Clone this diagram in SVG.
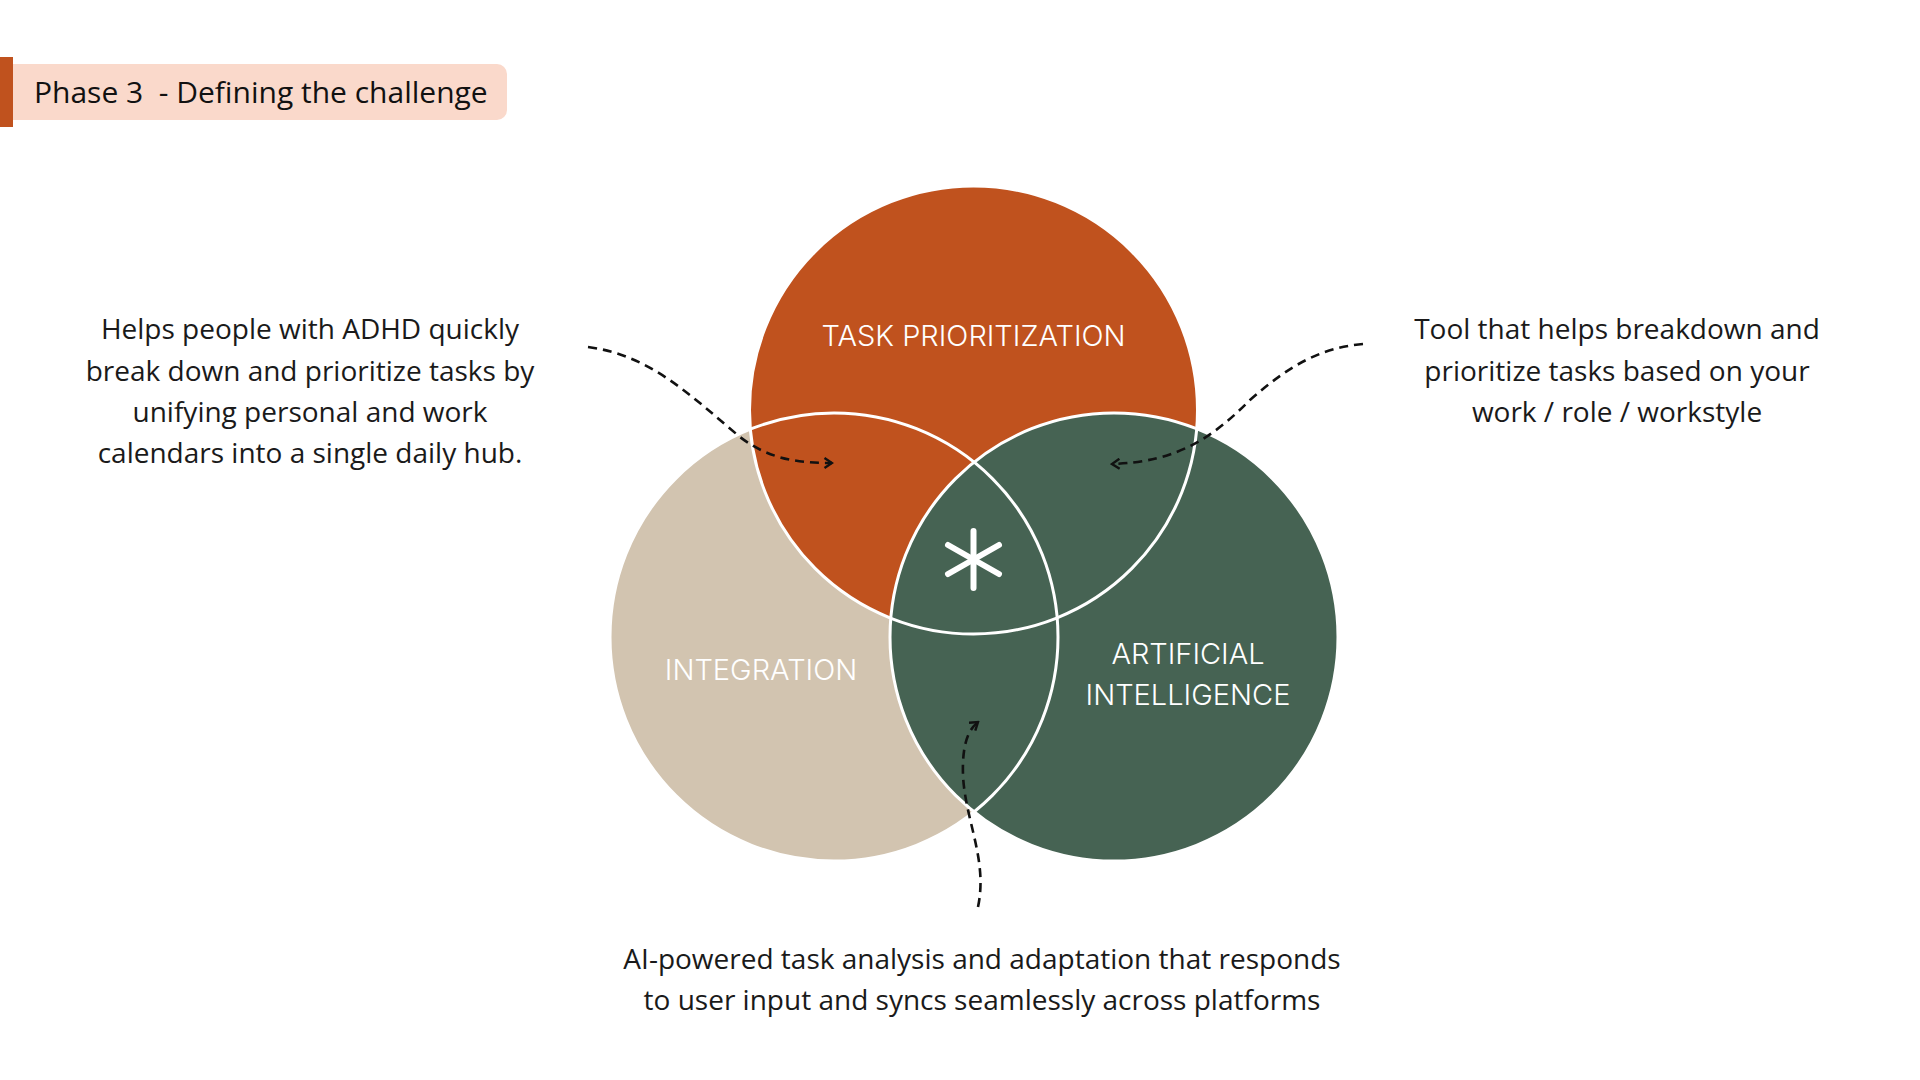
<svg xmlns="http://www.w3.org/2000/svg" width="1920" height="1080" viewBox="0 0 1920 1080">
<style>
.body{font-family:"Open Sans","Liberation Sans",sans-serif;font-size:28px;fill:#1a1a1a;text-anchor:middle}
.lbl{font-family:"Inter","Open Sans","Liberation Sans",sans-serif;font-weight:300;font-size:29px;fill:#ffffff;text-anchor:middle}
.ring{fill:none;stroke:#ffffff;stroke-width:3}
.dash{fill:none;stroke:#111111;stroke-width:2.6;stroke-dasharray:9 6}
</style>
<defs>
<marker id="arr" viewBox="0 0 12 12" refX="10.5" refY="6" markerWidth="12" markerHeight="12" markerUnits="userSpaceOnUse" orient="auto">
<path d="M3,1 L10.5,6 L3,11" fill="none" stroke="#111111" stroke-width="2.4"/>
</marker>
</defs>
<rect width="1920" height="1080" fill="#ffffff"/>
<g id="header">
<path d="M13,64 H497 A10,10 0 0 1 507,74 V110 A10,10 0 0 1 497,120 H13 Z" fill="#FAD9CB"/>
<rect x="0" y="57" width="13" height="70" fill="#C0521E"/>
<text x="34" y="103" font-family="Open Sans, Liberation Sans, sans-serif" font-size="30" fill="#111111" xml:space="preserve">Phase 3  - Defining the challenge</text>
</g>
<g id="venn">
<g id="integration"><circle cx="834" cy="637" r="224" fill="#D2C4B0"/></g>
<g id="task-prioritization"><circle cx="973.5" cy="410" r="224" fill="#C0521E"/></g>
<g id="artificial-intelligence"><circle cx="1114" cy="637" r="224" fill="#466353"/></g>
<circle class="ring" cx="834" cy="637" r="224"/>
<circle class="ring" cx="973.5" cy="410" r="224"/>
<circle class="ring" cx="1114" cy="637" r="224"/>
<text class="lbl" x="973.5" y="346">TASK PRIORITIZATION</text>
<text class="lbl" x="761" y="680">INTEGRATION</text>
<text class="lbl" x="1188" y="664">ARTIFICIAL</text>
<text class="lbl" x="1188" y="705">INTELLIGENCE</text>
<g id="center" stroke="#ffffff" stroke-width="6" stroke-linecap="round">
<line x1="973.5" y1="531" x2="973.5" y2="588"/>
<line x1="948" y1="545" x2="999" y2="574"/>
<line x1="948" y1="574" x2="999" y2="545"/>
</g>
</g>
<g id="desc-left">
<text class="body" x="310" y="339">Helps people with ADHD quickly</text>
<text class="body" x="310" y="381">break down and prioritize tasks by</text>
<text class="body" x="310" y="422">unifying personal and work</text>
<text class="body" x="310" y="463">calendars into a single daily hub.</text>
</g>
<g id="desc-right">
<text class="body" x="1617" y="339">Tool that helps breakdown and</text>
<text class="body" x="1617" y="381">prioritize tasks based on your</text>
<text class="body" x="1617" y="422">work / role / workstyle</text>
</g>
<g id="desc-bottom">
<text class="body" x="982" y="969">AI-powered task analysis and adaptation that responds</text>
<text class="body" x="982" y="1010">to user input and syncs seamlessly across platforms</text>
</g>
<g id="connectors">
<path class="dash" d="M588,347 C650,355 690,395 740,437 C770,460 800,463 832,463" marker-end="url(#arr)"/>
<path class="dash" d="M1363,344 C1320,348 1290,365 1250,400 C1215,435 1180,462 1112,464" marker-end="url(#arr)"/>
<path class="dash" d="M978,907 C988,860 965,820 963,775 C962,745 968,730 978,722" marker-end="url(#arr)"/>
</g>
</svg>
